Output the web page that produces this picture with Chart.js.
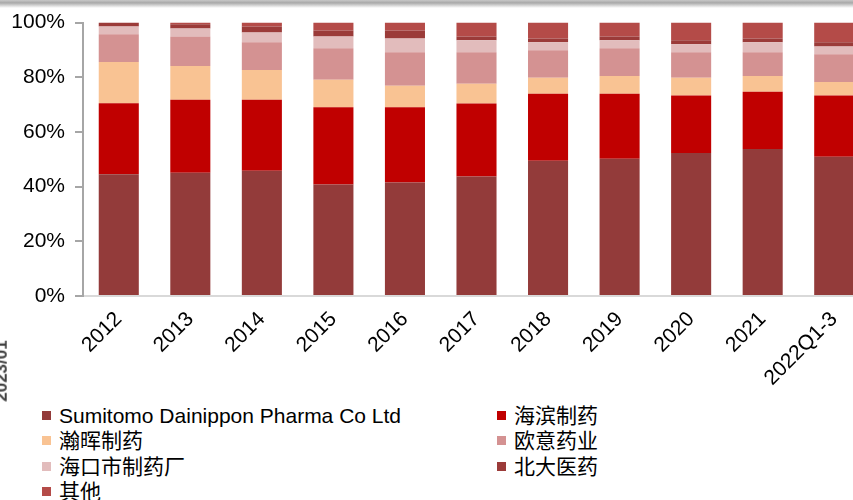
<!DOCTYPE html>
<html>
<head>
<meta charset="utf-8">
<script src="https://cdn.jsdelivr.net/npm/chart.js@4.4.1/dist/chart.umd.min.js"></script>
<style>
	body {
		margin: 0;
		width: 853px;
		height: 500px;
		overflow: hidden;
		position: relative;
		background: #fff;
		font-family: "Liberation Sans", Arial, "Noto Sans CJK SC", sans-serif;
	}
	#topbar {
		position: absolute;
		left: 0;
		top: 0;
		width: 853px;
		height: 8px;
		background: linear-gradient(#c8c8c8, #a9a9a9 35%, #ffffff);
	}
	#wrap {
		position: absolute;
		left: 0;
		top: 0;
		width: 880px;
		height: 395px;
	}
	#stamp {
		position: absolute;
		left: -29px;
		top: 361px;
		transform: rotate(-90deg);
		font: bold 17px "Liberation Sans", Arial, sans-serif;
		color: #404040;
	}
	#legend {
		position: absolute;
		left: 42px;
		top: 403px;
		display: grid;
		grid-template-columns: 455px 330px;
		font-size: 21px;
		color: #000;
	}
	.item {
		height: 25.3px;
		line-height: 25.3px;
		white-space: nowrap;
		display: flex;
		align-items: center;
	}
	.box {
		display: inline-block;
		width: 9px;
		height: 9px;
		margin-right: 8px;
	}
</style>
</head>
<body>
<div id="topbar"></div>
<div id="wrap"><canvas id="chart"></canvas></div>
<div id="stamp">2023/01</div>
<div id="legend"></div>
<script>
const years = ["2012", "2013", "2014", "2015", "2016", "2017", "2018", "2019", "2020", "2021", "2022Q1-3"];

const names = ["Sumitomo Dainippon Pharma Co Ltd", "海滨制药", "瀚晖制药", "欧意药业", "海口市制药厂", "北大医药", "其他"];
const colors = ["#933B3A", "#C00000", "#F9C393", "#D49292", "#E2BCBC", "#9B3B39", "#B44B48"];

const sumitomo = [44.5, 45.1, 45.8, 40.8, 41.5, 43.7, 49.5, 50.2, 52.3, 53.8, 50.9];
const haibin = [26.0, 26.7, 26.0, 28.2, 27.5, 26.7, 24.5, 23.8, 21.0, 20.9, 22.4];
const hanhui = [15.1, 12.3, 10.9, 10.1, 7.9, 7.2, 5.8, 6.5, 6.5, 5.8, 5.0];
const ouyi = [10.1, 10.8, 10.1, 11.5, 12.3, 11.6, 10.1, 10.1, 9.4, 8.7, 10.1];
const haikou = [2.9, 2.9, 3.6, 4.3, 5.0, 4.3, 2.9, 2.9, 2.9, 3.6, 2.9];
const beida = [1.4, 1.6, 2.2, 2.2, 2.9, 1.4, 1.4, 1.4, 1.4, 1.4, 1.5];
const others = [0.0, 0.6, 1.4, 2.9, 2.9, 5.1, 5.8, 5.1, 6.5, 5.8, 7.2];

const yTicks = [0, 20, 40, 60, 80, 100];

const series = [sumitomo, haibin, hanhui, ouyi, haikou, beida, others];
const font = { family: "'Liberation Sans', Arial, 'Noto Sans CJK SC'", size: 21 };

const theChart = new Chart(document.getElementById("chart"), {
	type: "bar",
	data: {
		labels: years,
		datasets: series.map((d, i) => ({
			label: names[i],
			data: d,
			backgroundColor: colors[i],
			categoryPercentage: 1,
			barPercentage: 0.56,
		})),
	},
	options: {
		responsive: true,
		maintainAspectRatio: false,
		animation: false,
		layout: { padding: { top: 15, right: 10, left: 0, bottom: 0 } },
		plugins: { legend: { display: false }, tooltip: { enabled: false } },
		scales: {
			x: {
				stacked: true,
				grid: { display: false },
				border: { display: true, color: "#D9D9D9", width: 2 },
				ticks: { font: font, color: "#000", minRotation: 45, maxRotation: 45, padding: 3 },
				afterFit: (s) => { s.height = 99; },
			},
			y: {
				stacked: true,
				min: 0,
				max: 100,
				afterBuildTicks: (s) => { s.ticks = yTicks.map((v) => ({ value: v })); },
				grid: { drawOnChartArea: false, drawTicks: true, tickLength: 8, color: "#A6A6A6", lineWidth: 2 },
				border: { display: true, color: "#A6A6A6", width: 2 },
				ticks: { font: font, color: "#000", padding: 10, callback: (v) => v + "%" },
				afterFit: (s) => { s.width = 83; },
			},
		},
	},
});

const legend = document.getElementById("legend");
names.forEach((n, i) => {
	const item = document.createElement("div");
	item.className = "item";
	const box = document.createElement("span");
	box.className = "box";
	box.style.background = colors[i];
	item.appendChild(box);
	item.appendChild(document.createTextNode(n));
	legend.appendChild(item);
});
</script>
</body>
</html>
